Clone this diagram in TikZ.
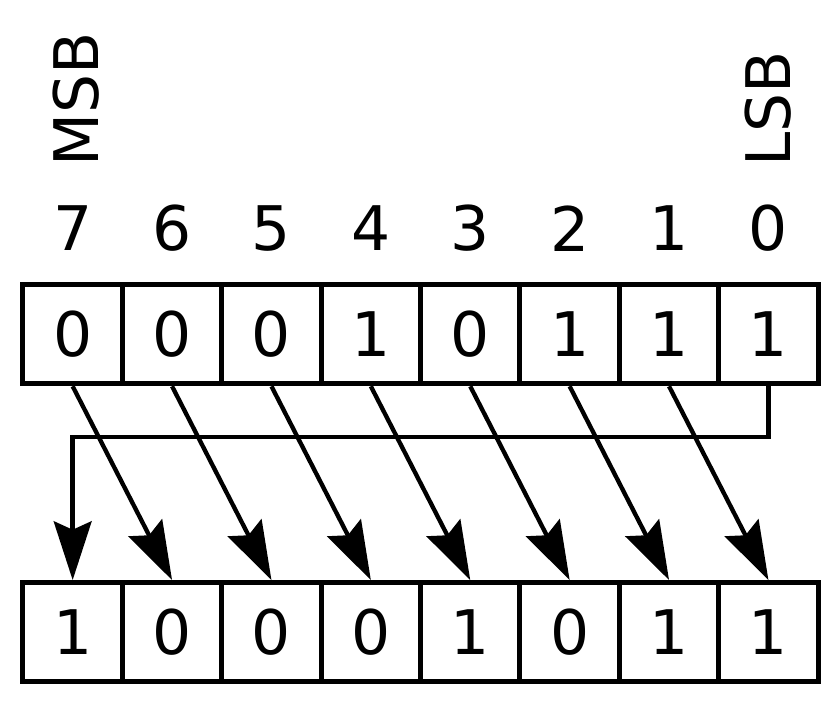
\documentclass[tikz,border=0pt]{standalone}
\usepackage{fontspec}
\setmainfont{DejaVu Sans}
\usetikzlibrary{arrows.meta}
\tikzset{>={Stealth[length = 42pt, width = 27pt, inset = 6pt]}}
\tikzset{bitcell/.style = {draw, line width = 3.6pt, minimum width = 2.5cm, minimum height = 2.5cm, inner sep = 0pt}}
\tikzset{shiftline/.style = {->, line width = 3.1pt}}
\tikzset{endlabel/.style = {rotate = 90, anchor = base west, inner sep = 0pt}}

\begin{document}
\begin{tikzpicture}[x = 2.5cm, y = 2.5cm, font = \fontsize{44}{53}\selectfont]

\fill[white] (-0.231, -0.342) rectangle (8.22, 6.861);
\useasboundingbox (-0.231, -0.342) rectangle (8.22, 6.861);

\node[endlabel] (msb) at (0.755, 5.18) {MSB};
\node[endlabel] (lsb) at (7.717, 5.18) {LSB};

\node (i7) at (0.5, 4.562) {7};
\node (i6) at (1.5, 4.562) {6};
\node (i5) at (2.5, 4.562) {5};
\node (i4) at (3.5, 4.562) {4};
\node (i3) at (4.5, 4.562) {3};
\node (i2) at (5.5, 4.562) {2};
\node (i1) at (6.5, 4.562) {1};
\node (i0) at (7.5, 4.562) {0};

\node[bitcell] (t7) at (0.5, 3.5) {0};
\node[bitcell] (t6) at (1.5, 3.5) {0};
\node[bitcell] (t5) at (2.5, 3.5) {0};
\node[bitcell] (t4) at (3.5, 3.5) {1};
\node[bitcell] (t3) at (4.5, 3.5) {0};
\node[bitcell] (t2) at (5.5, 3.5) {1};
\node[bitcell] (t1) at (6.5, 3.5) {1};
\node[bitcell] (t0) at (7.5, 3.5) {1};

\node[bitcell] (b7) at (0.5, 0.5) {1};
\node[bitcell] (b6) at (1.5, 0.5) {0};
\node[bitcell] (b5) at (2.5, 0.5) {0};
\node[bitcell] (b4) at (3.5, 0.5) {0};
\node[bitcell] (b3) at (4.5, 0.5) {1};
\node[bitcell] (b2) at (5.5, 0.5) {0};
\node[bitcell] (b1) at (6.5, 0.5) {1};
\node[bitcell] (b0) at (7.5, 0.5) {1};

\draw[shiftline] (t7.south) -- (b6.north);
\draw[shiftline] (t6.south) -- (b5.north);
\draw[shiftline] (t5.south) -- (b4.north);
\draw[shiftline] (t4.south) -- (b3.north);
\draw[shiftline] (t3.south) -- (b2.north);
\draw[shiftline] (t2.south) -- (b1.north);
\draw[shiftline] (t1.south) -- (b0.north);

\coordinate (turn) at (0.5, 2.465);
\draw[shiftline] (t0.south) |- (turn) -- (b7.north);

\end{tikzpicture}
\end{document}
